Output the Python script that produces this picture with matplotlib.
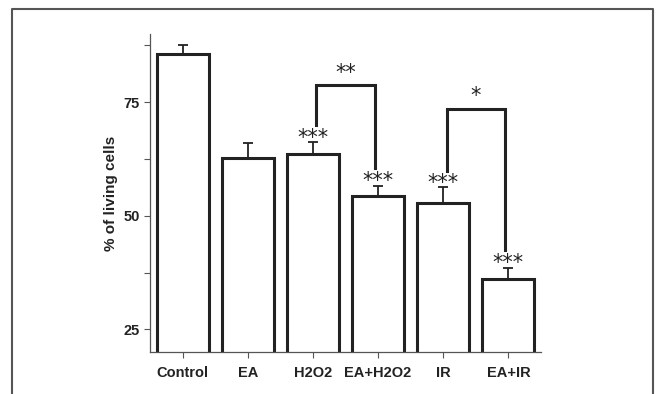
import numpy as np
import matplotlib.pyplot as plt
from matplotlib.lines import Line2D

plt.rcParams['font.family'] = ['Liberation Sans', 'DejaVu Sans']

groups = ["Control", "EA", "H2O2", "EA+H2O2", "IR", "EA+IR"]
means = [85.6, 62.8, 63.5, 54.4, 52.8, 36.1]
errs = [1.9, 3.1, 2.7, 2.2, 3.5, 2.5]
stars = ["", "", "***", "***", "***", "***"]

# comparison brackets: (left bar, right bar, top, left leg end, right leg end, label)
brackets = [(2, 3, 78.7, 69.9, 60.5, "**"),
            (4, 5, 73.6, 59.9, 42.5, "*")]

fig = plt.figure(figsize=(6.58, 3.94), dpi=100)
ax = fig.add_axes([150/658, 1-352/394, 391/658, 318/394])

x = np.arange(len(groups))
ax.bar(x, means, width=0.8, color="white", edgecolor="#222222", linewidth=2.2, zorder=2)
ax.errorbar(x, means, yerr=[np.zeros(len(errs)), errs], fmt="none", ecolor="#222222",
            elinewidth=1.3, capsize=3.5, capthick=1.3, zorder=1)

for xi, m, e, s in zip(x, means, errs, stars):
    if s:
        ax.annotate(s, (xi, m + e), xytext=(0, -1.2), textcoords="offset points",
                    ha="center", va="baseline", fontsize=15, color="#222222",
                    family="DejaVu Sans")

for a, b, top, la, lb, lab in brackets:
    ax.plot([a + 0.05, a + 0.05, b - 0.05, b - 0.05], [la, top, top, lb],
            color="#222222", lw=2.2, solid_joinstyle="miter", zorder=3)
    ax.annotate(lab, ((a + b) / 2, top), xytext=(0, 4.5), textcoords="offset points",
                ha="center", va="baseline", fontsize=15, color="#222222",
                family="DejaVu Sans")

ax.set_xlim(-0.5, 5.5)
ax.set_ylim(20, 90)
ax.set_xticks(x)
ax.set_xticklabels(groups, fontsize=10.5, fontweight="bold", color="#222222")
ax.set_yticks([25, 50, 75])
ax.set_yticks([37.5, 62.5, 87.5], minor=True)
ax.set_yticklabels(["25", "50", "75"], fontsize=10.5, fontweight="bold", color="#222222")
ax.tick_params(axis="both", which="both", direction="out", length=4, width=0.8, color="#555555")
ax.tick_params(axis="x", pad=6)
ax.set_ylabel("% of living cells", fontsize=11, fontweight="bold", color="#222222", labelpad=4)

for side in ["top", "right"]:
    ax.spines[side].set_visible(False)
for side in ["left", "bottom"]:
    ax.spines[side].set_color("#555555")
    ax.spines[side].set_linewidth(0.9)

# outer frame (open at the bottom)
fx0, fx1, fy = 12/658, 653/658, 1 - 9/394
fig.add_artist(Line2D([fx0, fx0, fx1, fx1], [0, fy, fy, 0], transform=fig.transFigure,
                      color="#555555", lw=1.5))

fig.savefig("out.png", dpi=100)
